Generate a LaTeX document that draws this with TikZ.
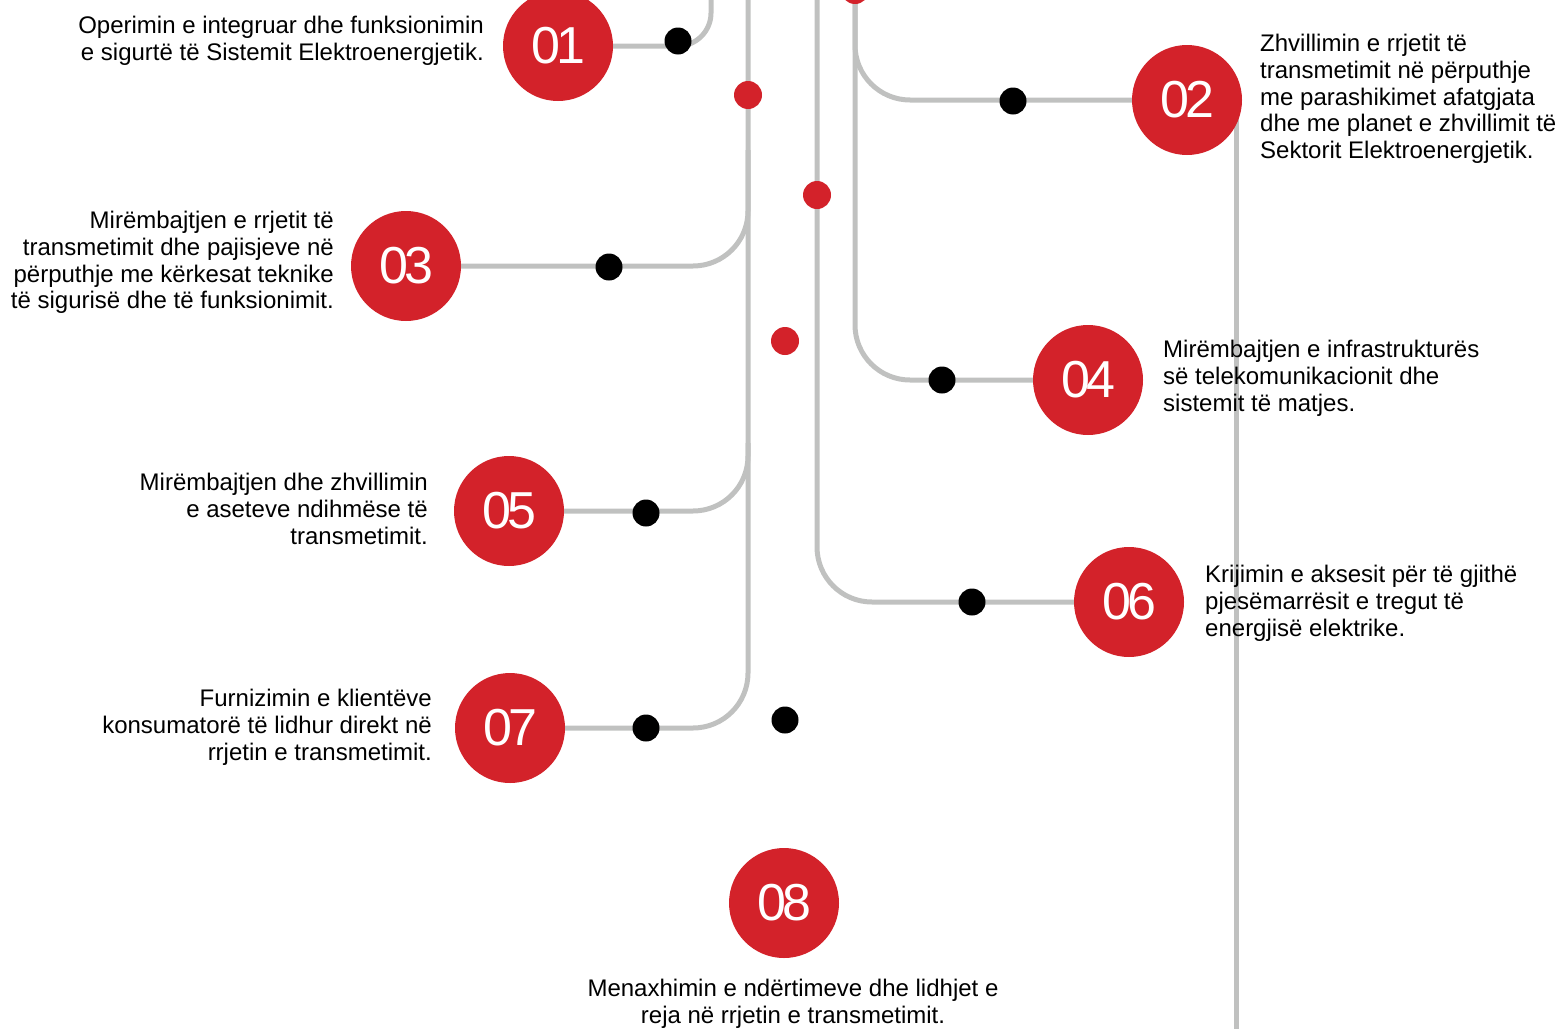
\documentclass[tikz,border=0pt]{standalone}
\usepackage{fontspec}
\setmainfont{Liberation Sans}
\definecolor{brandred}{HTML}{D3222A}
\definecolor{wiregray}{HTML}{C0C1C0}
\begin{document}
\begin{tikzpicture}[x=1pt,y=-1pt,
  wire/.style={draw=wiregray, line width=5pt, rounded corners=55pt},
  badge/.style={circle, fill=brandred, minimum size=110pt, inner sep=0pt,
    text=white, font=\fontsize{52}{52}\selectfont},
  reddot/.style={circle, fill=brandred, minimum size=28pt, inner sep=0pt},
  blackdot/.style={circle, fill=black, minimum size=27pt, inner sep=0pt},
  desc/.style={inner sep=0pt, font=\fontsize{24}{26.8}\selectfont,
    execute at begin node=\rule{0pt}{18pt}}]
\useasboundingbox (0,0) rectangle (1565,1028);
\clip (0,0) rectangle (1565,1028);

% badge centres
\coordinate (p01) at (558,46);
\coordinate (p02) at (1187,100);
\coordinate (p03) at (406,266);
\coordinate (p04) at (1088,380);
\coordinate (p05) at (509,511);
\coordinate (p06) at (1129,602);
\coordinate (p07) at (510,728);
\coordinate (p08) at (784,903);

% ends of the trunk lines
\coordinate (t01) at (711,-30);
\coordinate (aTop) at (748,-30);
\coordinate (a03) at (748,150);
\coordinate (a05) at (748,443);
\coordinate (bTop) at (817,-30);
\coordinate (cTop) at (855,-30);
\coordinate (dTop) at (1236,100);
\coordinate (dEnd) at (1236,1040);

% grey wires
\draw[wire, rounded corners=33pt] (p01) -| (t01);
\draw[wire] (aTop) |- (p07);
\draw[wire] (a03) |- (p03);
\draw[wire] (a05) |- (p05);
\draw[wire] (bTop) |- (p06);
\draw[wire] (cTop) |- (p02);
\draw[wire] (cTop) |- (p04);
\draw[wire, rounded corners=0pt] (dTop) -- (dEnd);

% red dots on the trunks
\node[reddot] (r1) at (855,-10) {};
\node[reddot] (r2) at (748,95) {};
\node[reddot] (r3) at (817,195) {};
\node[reddot] (r4) at (785,341) {};

% black dots
\node[blackdot] (k01) at (678,41) {};
\node[blackdot] (k02) at (1013,101) {};
\node[blackdot] (k03) at (609,267) {};
\node[blackdot] (k04) at (942,380) {};
\node[blackdot] (k05) at (646,513) {};
\node[blackdot] (k06) at (972,602) {};
\node[blackdot] (k07) at (646,728) {};
\node[blackdot] (k08) at (785,720) {};

% numbered badges
\node[badge] (n01) at (p01) {0\kern-4pt1};
\node[badge] (n02) at (p02) {0\kern-4pt2};
\node[badge] (n03) at (p03) {0\kern-4pt3};
\node[badge] (n04) at (p04) {0\kern-4pt4};
\node[badge] (n05) at (p05) {0\kern-4pt5};
\node[badge] (n06) at (p06) {0\kern-4pt6};
\node[badge] (n07) at (p07) {0\kern-4pt7};
\node[badge] (n08) at (p08) {0\kern-4pt8};

% descriptions
\node[desc, anchor=north east, align=right] (d01) at (484,16)
  {Operimin e integruar dhe funksionimin\\e sigurtë të Sistemit Elektroenergjetik.};
\node[desc, anchor=north west, align=left] (d02) at (1260,34)
  {Zhvillimin e rrjetit të\\transmetimit në përputhje\\me parashikimet afatgjata\\dhe me planet e zhvillimit të\\Sektorit Elektroenergjetik.};
\node[desc, anchor=north east, align=right] (d03) at (334,211)
  {Mirëmbajtjen e rrjetit të\\transmetimit dhe pajisjeve në\\përputhje me kërkesat teknike\\të sigurisë dhe të funksionimit.};
\node[desc, anchor=north west, align=left] (d04) at (1163,340)
  {Mirëmbajtjen e infrastrukturës\\së telekomunikacionit dhe\\sistemit të matjes.};
\node[desc, anchor=north east, align=right] (d05) at (428,473)
  {Mirëmbajtjen dhe zhvillimin\\e aseteve ndihmëse të\\transmetimit.};
\node[desc, anchor=north west, align=left] (d06) at (1205,565)
  {Krijimin e aksesit për të gjithë\\pjesëmarrësit e tregut të\\energjisë elektrike.};
\node[desc, anchor=north east, align=right] (d07) at (432,689)
  {Furnizimin e klientëve\\konsumatorë të lidhur direkt në\\rrjetin e transmetimit.};
\node[desc, anchor=north, align=center] (d08) at (793,979)
  {Menaxhimin e ndërtimeve dhe lidhjet e\\reja në rrjetin e transmetimit.};
\end{tikzpicture}
\end{document}
